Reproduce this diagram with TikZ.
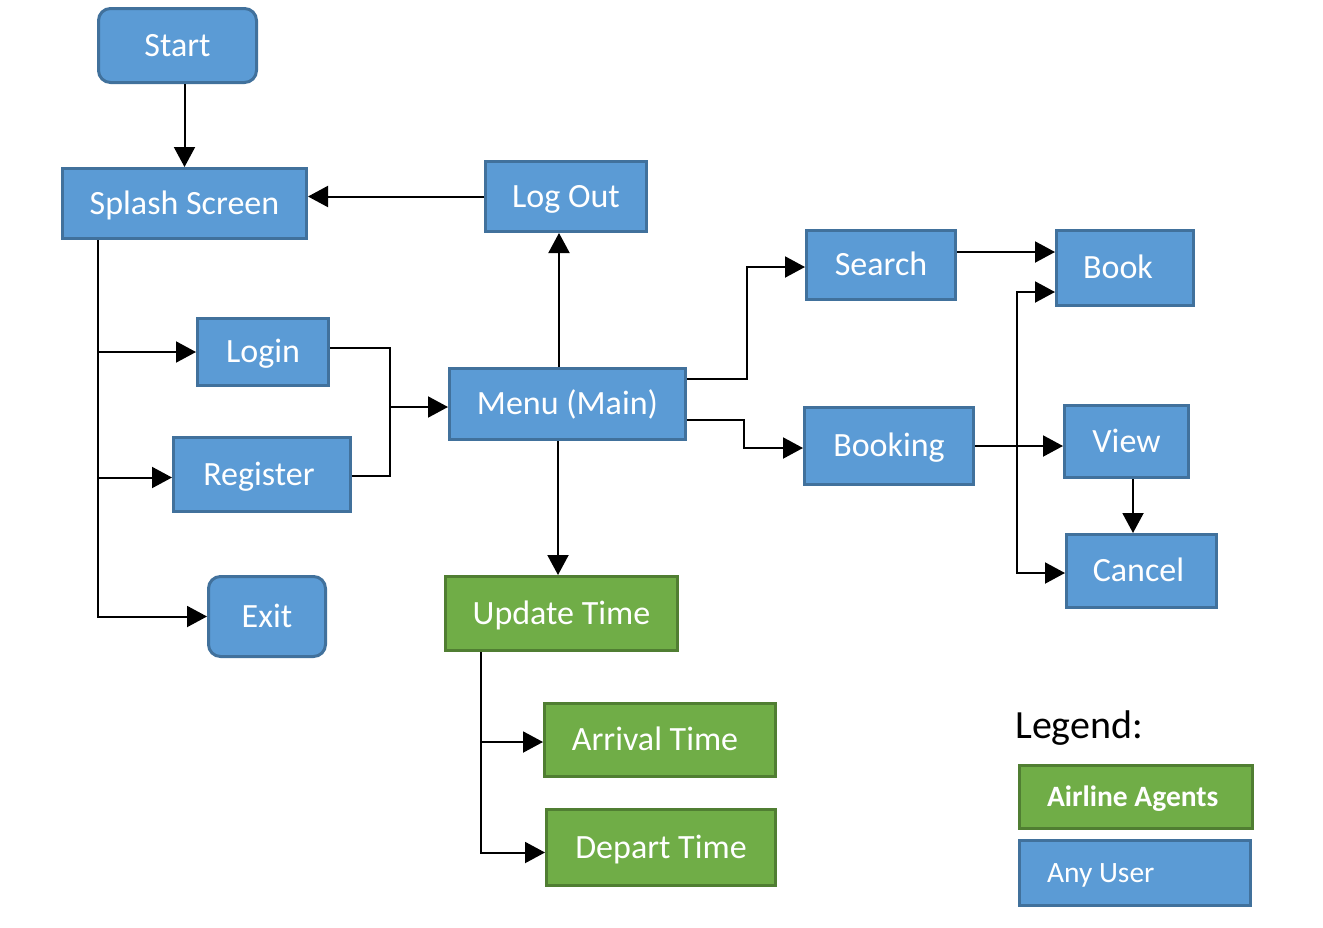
\documentclass[tikz,border=0pt]{standalone}
\usepackage{fontspec}
\setmainfont{Carlito}
\usetikzlibrary{arrows.meta,calc}
\definecolor{ubfill}{HTML}{5B9BD5}
\definecolor{ubdraw}{HTML}{41719C}
\definecolor{agfill}{HTML}{70AD47}
\definecolor{agdraw}{HTML}{507E32}
\begin{document}
\begin{tikzpicture}[x=1pt,y=-1pt,
 box/.style={draw, line width=3pt, text=white, font=\fontsize{34}{40}\selectfont, text height=21.9pt, text depth=0pt, inner sep=0pt, outer sep=1.5pt},
 ubox/.style={box, fill=ubfill, draw=ubdraw},
 abox/.style={box, fill=agfill, draw=agdraw},
 rbox/.style={ubox, rounded corners=12pt},
 legbox/.style={font=\fontsize{29.5}{35}\selectfont, text height=19pt, inner xsep=27.5pt},
 arr/.style={line width=2pt, -{Triangle[length=20pt,width=21pt]}},
 conn/.style={line width=2pt},
]
\useasboundingbox[fill=white] (0,0) rectangle (1323,927);

\node[rbox, minimum width=158, minimum height=74] (start) at (177.5,45.5) {Start};
\node[ubox, minimum width=244, minimum height=70] (splash) at (184.5,203.5) {Splash Screen};
\node[ubox, minimum width=161, minimum height=70] (logout) at (566,196.5) {Log Out};
\node[ubox, minimum width=149, minimum height=69] (search) at (881,265) {Search};
\node[ubox, minimum width=137, minimum height=75] (book) at (1125,268) {Book\kern14pt};
\node[ubox, minimum width=131, minimum height=67] (login) at (263,352) {Login};
\node[ubox, minimum width=236, minimum height=71] (menu) at (567.5,404) {Menu (Main)};
\node[ubox, minimum width=177, minimum height=74] (register) at (262,474.5) {Register\kern6pt};
\node[ubox, minimum width=169, minimum height=77] (booking) at (889,446) {Booking};
\node[ubox, minimum width=124, minimum height=72] (view) at (1126.5,441.5) {View};
\node[ubox, minimum width=150, minimum height=73] (cancel) at (1141.5,571) {Cancel\kern6pt};
\node[rbox, minimum width=117, minimum height=80] (exit) at (267,616.5) {Exit};
\node[abox, minimum width=232, minimum height=74] (update) at (561.5,613.5) {Update Time};
\node[abox, minimum width=231, minimum height=73] (arrival) at (660,740) {Arrival Time\kern10pt};
\node[abox, minimum width=229, minimum height=76] (depart) at (661,847.5) {Depart Time};

\node[anchor=base west, font=\fontsize{40}{48}\selectfont, inner sep=0pt] (legend) at (1015,738) {Legend:};
\node[abox, legbox, minimum width=233, minimum height=63] (agents) at (1136,797) {\makebox[178pt][l]{\bfseries Airline Agents}};
\node[ubox, legbox, minimum width=231, minimum height=65] (anyuser) at (1135,873) {\makebox[176pt][l]{Any User}};

% connectors
\draw[arr] (splash.north |- start.south) -- (splash.north);
\draw[arr] (logout.west) -- (logout.west -| splash.east);

\coordinate (sb) at ($(splash.south west)+(36.5,0)$);
\draw[arr] (sb) |- (login.west);
\draw[arr] (sb) |- ($(register.west)+(0,3)$);
\draw[arr] (sb) |- (exit.west);

\coordinate (jm) at ($(menu.west)+(-58,3)$);
\draw[conn] ($(login.east)+(0,-4)$) -| (jm) |- ($(register.east)+(0,1)$);
\draw[arr] (jm) -- (jm -| menu.west);

\draw[arr] ($(menu.north)+(-8.5,0)$) -- ($(logout.south)+(-7,0)$);
\draw[arr] ($(menu.east)+(0,-25)$) -- ++(60,0) |- ($(search.west)+(0,2)$);
\draw[arr] ($(menu.east)+(0,16)$) -- ++(57,0) |- ($(booking.west)+(0,2)$);
\draw[arr] ($(menu.south)+(-9.5,0)$) -- ($(update.north)+(-3.5,0)$);

\coordinate (s1) at ($(search.east)+(0,-13)$);
\draw[arr] (s1) -- (s1 -| book.west);

\draw[arr] (booking.east) -- (booking.east -| view.west);
\coordinate (bx) at ($(booking.east)+(42,0)$);
\draw[arr] (bx) |- ($(book.west)+(0,24)$);
\draw[arr] (bx) |- ($(cancel.west)+(0,2)$);
\draw[arr] ($(view.south)+(6.5,0)$) -- ($(cancel.north)+(-8.5,0)$);

\coordinate (ub) at ($(update.south west)+(37,0)$);
\draw[arr] (ub) |- ($(arrival.west)+(0,2)$);
\draw[arr] (ub) |- ($(depart.west)+(0,5)$);
\end{tikzpicture}
\end{document}
